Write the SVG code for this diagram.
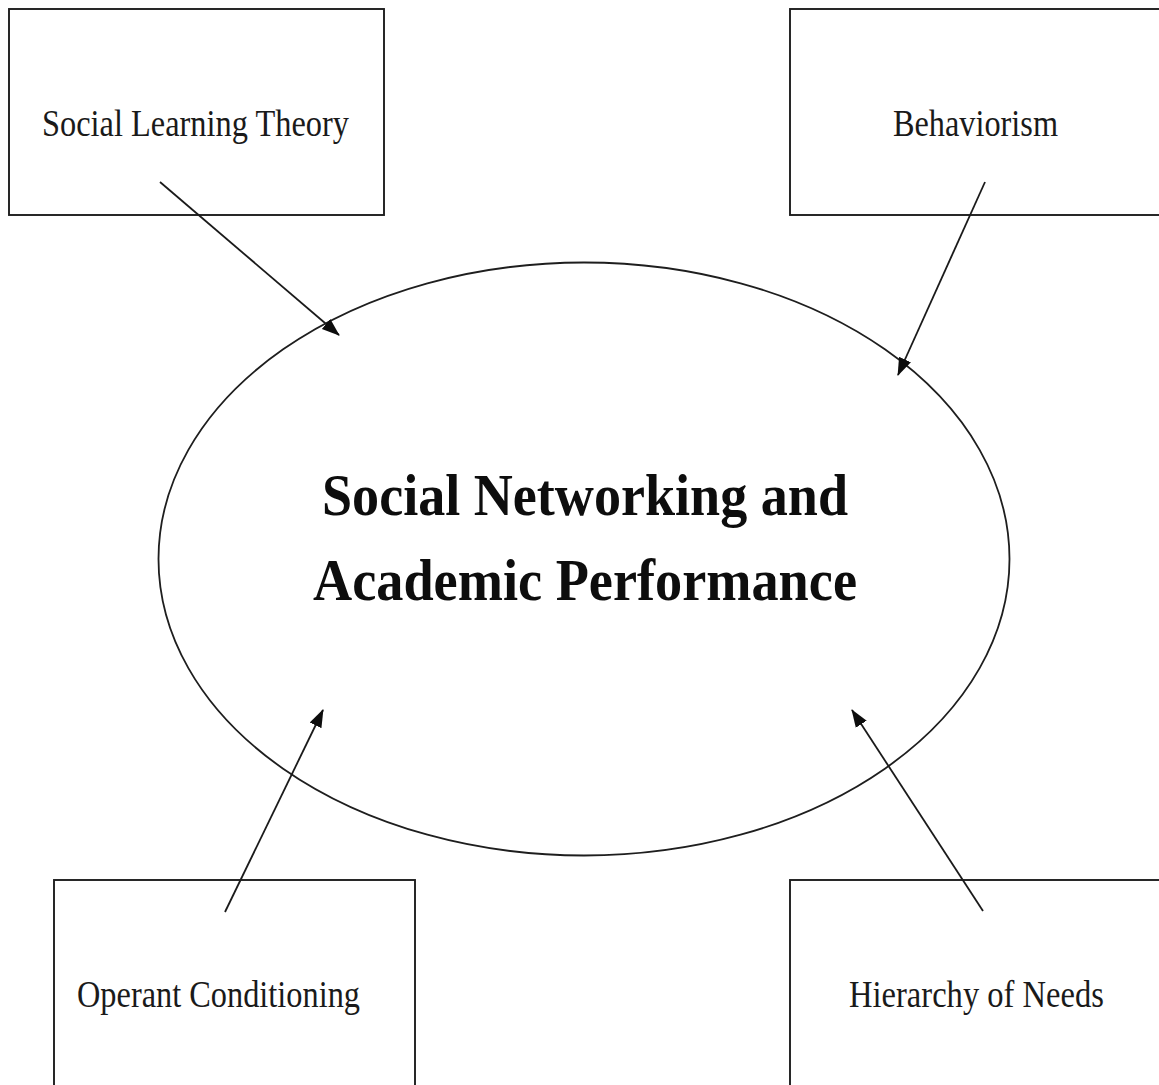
<svg xmlns="http://www.w3.org/2000/svg" width="1159" height="1085" viewBox="0 0 1159 1085">
  <style>
    .box { fill: #ffffff; stroke: #1e1e1e; stroke-width: 1.9; }
    .hub { fill: #ffffff; stroke: #1e1e1e; stroke-width: 1.8; }
    .label { font-family: "Liberation Serif", "Times New Roman", serif; font-size: 37px; fill: #1a1a1a; }
    .title { font-family: "Liberation Serif", "Times New Roman", serif; font-size: 60px; font-weight: bold; fill: #0d0d0d; }
    .link { stroke: #1a1a1a; stroke-width: 1.8; fill: none; marker-end: url(#head); }
  </style>
  <defs>
    <marker id="head" markerUnits="userSpaceOnUse" markerWidth="18" markerHeight="16" viewBox="0 0 18 16" refX="17" refY="8" orient="auto">
      <path d="M0,1.5 L18,8 L0,14.5 Z" fill="#0d0d0d"/>
    </marker>
  </defs>
  <rect width="1159" height="1085" fill="#ffffff"/>

  <g id="center">
    <ellipse class="hub" cx="584" cy="559" rx="425.5" ry="296.5"/>
    <text class="title" x="322" y="515" textLength="526" lengthAdjust="spacingAndGlyphs">Social Networking and</text>
    <text class="title" x="313" y="600" textLength="544" lengthAdjust="spacingAndGlyphs">Academic Performance</text>
  </g>

  <g id="social-learning-theory">
    <rect class="box" x="9" y="9" width="375" height="206"/>
    <text class="label" x="42" y="136" textLength="307" lengthAdjust="spacingAndGlyphs">Social Learning Theory</text>
  </g>

  <g id="behaviorism">
    <rect class="box" x="790" y="9" width="400" height="206"/>
    <text class="label" x="893" y="136" textLength="165" lengthAdjust="spacingAndGlyphs">Behaviorism</text>
  </g>

  <g id="operant-conditioning">
    <rect class="box" x="54" y="880" width="361" height="220"/>
    <text class="label" x="77" y="1007" textLength="283" lengthAdjust="spacingAndGlyphs">Operant Conditioning</text>
  </g>

  <g id="hierarchy-of-needs">
    <rect class="box" x="790" y="880" width="400" height="220"/>
    <text class="label" x="849" y="1007" textLength="255" lengthAdjust="spacingAndGlyphs">Hierarchy of Needs</text>
  </g>

  <g id="connectors">
    <line class="link" x1="160" y1="182" x2="339" y2="335"/>
    <line class="link" x1="985" y1="182" x2="898" y2="375"/>
    <line class="link" x1="225" y1="912" x2="323" y2="710"/>
    <line class="link" x1="983" y1="911" x2="852" y2="710"/>
  </g>
</svg>
